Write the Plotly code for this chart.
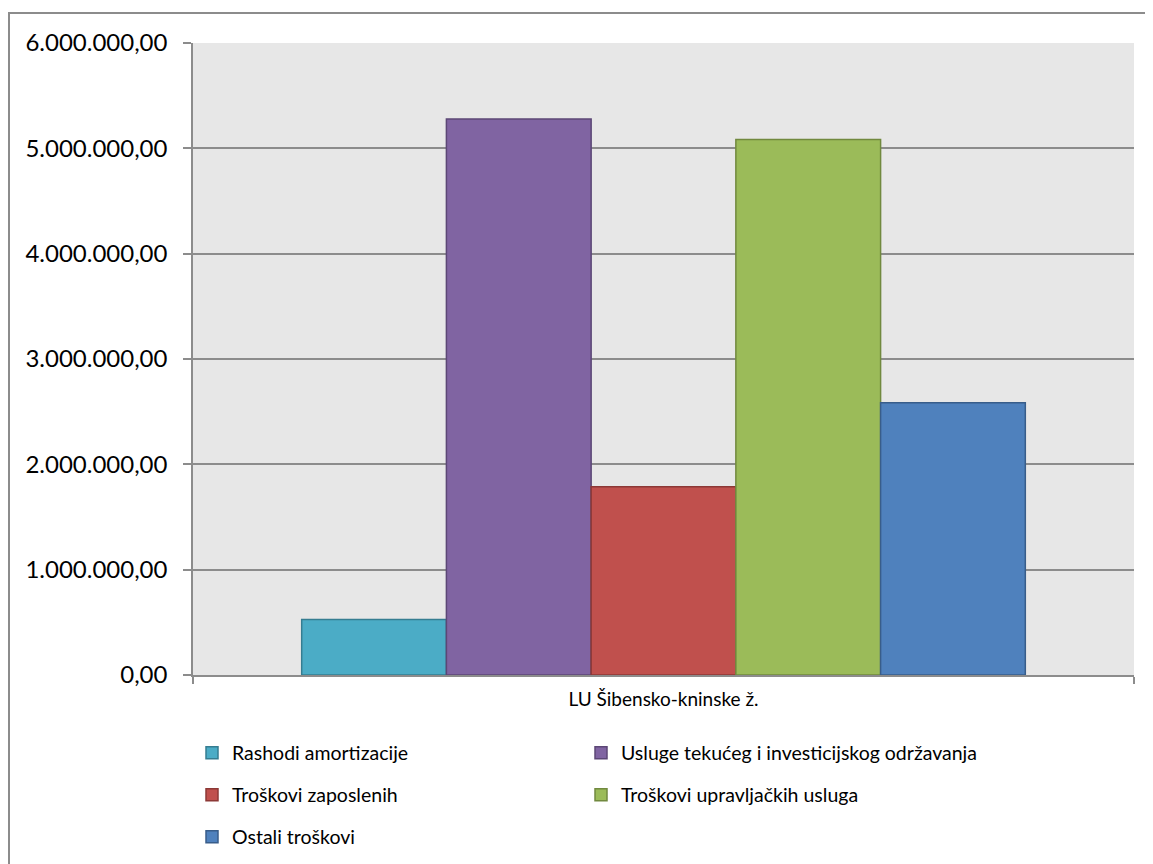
import plotly.graph_objects as go

category = ["LU Šibensko-kninske ž."]
series_names = [
    "Rashodi amortizacije",
    "Usluge tekućeg i investicijskog održavanja",
    "Troškovi zaposlenih",
    "Troškovi upravljačkih usluga",
    "Ostali troškovi",
]
series_values = [528000, 5279000, 1787000, 5083000, 2584000]
fill_colors = ["#4BACC6", "#8064A2", "#C0504D", "#9BBB59", "#4F81BD"]
line_colors = ["#357D91", "#5C4776", "#8C3836", "#71893F", "#385D8A"]
legend_ids = ["legend", "legend", "legend2", "legend2", "legend3"]
legend_widths = [344, 380, 344, 380, 344]
y_ticks = [0, 1000000, 2000000, 3000000, 4000000, 5000000, 6000000]

# page has an 8px body margin, so the figure is drawn 8px in from the window edge
OFF = 8
W, H = 1145, 856
L, R, T, B = 185, 19, 35, 189
pw, ph = W - L - R, H - T - B

def px2x(px):
    return (px - OFF - L) / pw

def py2y(py):
    return (H - B - (py - OFF)) / ph

fig = go.Figure()
for name, val, fc, lc, lg, lw in zip(series_names, series_values, fill_colors,
                                     line_colors, legend_ids, legend_widths):
    fig.add_trace(go.Bar(
        x=category, y=[val], name=name,
        marker=dict(color=fc, line=dict(color=lc, width=1.5)),
        legend=lg, legendwidth=lw,
    ))

legend_common = dict(
    orientation="h", xanchor="left", yanchor="middle",
    font=dict(family="Lato", size=19.5, color="#000000"),
    entrywidthmode="pixels",
    bgcolor="rgba(0,0,0,0)", traceorder="normal",
    itemclick=False, itemdoubleclick=False,
)

fig.update_layout(
    width=W, height=H,
    margin=dict(l=L, r=R, t=T, b=B, pad=0, autoexpand=False),
    paper_bgcolor="#FFFFFF",
    plot_bgcolor="#E7E7E7",
    separators=",.",
    barmode="group",
    bargap=0.231,
    bargroupgap=0,
    showlegend=True,
    legend=dict(x=px2x(192), y=py2y(753), **legend_common),
    legend2=dict(x=px2x(192), y=py2y(795), **legend_common),
    legend3=dict(x=px2x(192), y=py2y(837), **legend_common),
    font=dict(family="Lato", color="#000000"),
    xaxis=dict(
        type="category",
        showline=True, linecolor="#8C8C8C", linewidth=1.5,
        ticks="outside", ticklen=7, tickcolor="#8C8C8C", tickwidth=1.5,
        tickson="boundaries",
        showgrid=False,
        tickfont=dict(family="Lato", size=19, color="#000000"),
        ticklabelstandoff=6,
        automargin=False,
    ),
    yaxis=dict(
        range=[0, 6000000],
        tickvals=y_ticks,
        tickformat=",.2f",
        showline=True, linecolor="#8C8C8C", linewidth=1.5,
        ticks="outside", ticklen=8, tickcolor="#8C8C8C", tickwidth=1.5,
        showgrid=True, gridcolor="#8C8C8C", gridwidth=1.5,
        zeroline=False,
        tickfont=dict(family="Lato", size=24, color="#000000"),
        ticklabelstandoff=11,
        automargin=False,
    ),
    shapes=[dict(
        type="rect", xref="paper", yref="paper",
        x0=px2x(9), x1=px2x(1175), y0=py2y(880), y1=py2y(13),
        line=dict(color="#8C8C8C", width=2), fillcolor="rgba(0,0,0,0)",
        layer="below",
    )],
)

fig.write_html("out.html")
